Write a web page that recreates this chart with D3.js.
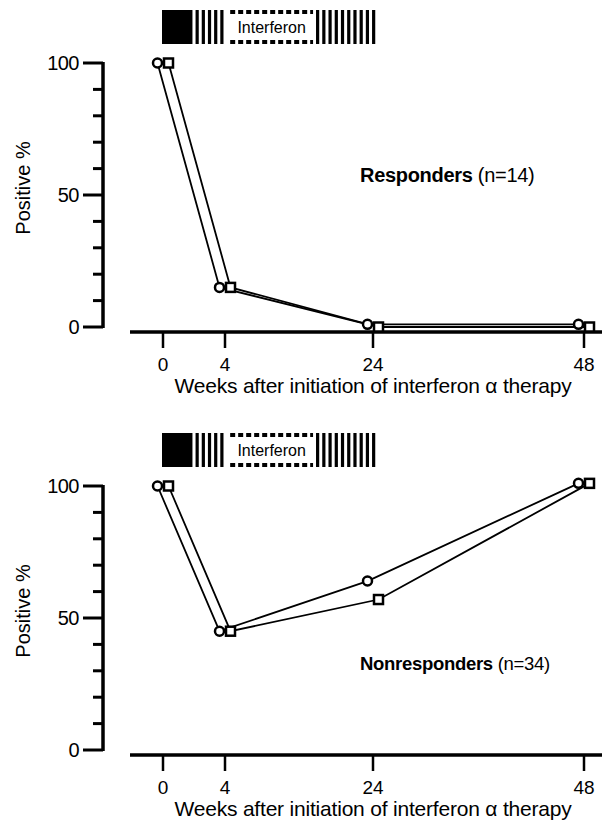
<!DOCTYPE html>
<html>
<head>
<meta charset="utf-8">
<script src="https://cdn.jsdelivr.net/npm/d3@7"></script>
<style>
  body { margin: 0; background: #fff; }
  svg { display: block; font-family: "Liberation Sans", Arial, sans-serif; }
</style>
</head>
<body>
<div id="chart"></div>
<script>
// x positions are weeks, axis is not linear in the original
var weeks = [0, 4, 24, 48];
var weekTicks = ["0", "4", "24", "48"];
var yTicks = [0, 50, 100];

// responders (n=14)
var respCircle = [100, 15, 1, 1];
var respSquare = [100, 15, 0, 0];

// nonresponders (n=34)
var nonCircle = [100, 45, 64, 101];
var nonSquare = [100, 45, 57, 101];

// treatment bar segments, in weeks
var solidSeg = [0, 1.9];
var stripeSeg1 = [2.1, 4.2];
var dashSeg = [4.7, 15.9];
var stripeSeg2 = [16.3, 24.6];

var width = 602;
var height = 827;

var xScale = d3.scaleLinear()
    .domain(weeks)
    .range([163, 225, 373, 584]);

var svg = d3.select("#chart")
    .append("svg")
        .attr("width", width)
        .attr("height", height);

function drawPanel(top, circleVals, squareVals, label, count, labelY, labelSize) {
    var g = svg.append("g")
        .attr("transform", "translate(0," + top + ")");

    var yScale = d3.scaleLinear()
        .domain([0, 100])
        .range([327, 63]);

    // interferon bar
    var barTop = 10, barH = 34;
    g.append("rect")
        .attr("x", xScale(solidSeg[0]) - 1)
        .attr("y", barTop)
        .attr("width", xScale(solidSeg[1]) - xScale(solidSeg[0]) + 1)
        .attr("height", barH)
        .attr("fill", "#000");

    [stripeSeg1, stripeSeg2].forEach(function (seg) {
        var x0 = xScale(seg[0]), x1 = xScale(seg[1]);
        var n = Math.round((x1 - x0) / 6);
        g.selectAll(null)
            .data(d3.range(n))
            .enter().append("rect")
                .attr("x", function (i) { return x0 + i * (x1 - x0) / n; })
                .attr("y", barTop)
                .attr("width", 3.2)
                .attr("height", barH)
                .attr("fill", "#000");
    });

    var dx0 = xScale(dashSeg[0]), dx1 = xScale(dashSeg[1]);
    [barTop + 2, barTop + barH - 2].forEach(function (yy) {
        g.append("line")
            .attr("x1", dx0)
            .attr("x2", dx1)
            .attr("y1", yy)
            .attr("y2", yy)
            .attr("stroke", "#000")
            .attr("stroke-width", 4)
            .attr("stroke-dasharray", "5,3");
    });
    g.append("text")
        .attr("x", (dx0 + dx1) / 2)
        .attr("y", barTop + barH / 2 + 6)
        .attr("text-anchor", "middle")
        .attr("font-size", 16)
        .text("Interferon");

    // y axis
    g.append("line")
        .attr("x1", 103).attr("x2", 103)
        .attr("y1", yScale(100) - 1).attr("y2", yScale(0) + 1)
        .attr("stroke", "#000")
        .attr("stroke-width", 3.5);

    g.selectAll(null)
        .data(d3.range(0, 101, 10))
        .enter().append("line")
            .attr("x1", function (d) { return d % 50 === 0 ? 83 : 93; })
            .attr("x2", 103)
            .attr("y1", function (d) { return yScale(d); })
            .attr("y2", function (d) { return yScale(d); })
            .attr("stroke", "#000")
            .attr("stroke-width", 3);

    g.selectAll(null)
        .data(yTicks)
        .enter().append("text")
            .attr("x", 79)
            .attr("y", function (d) { return yScale(d) + 7; })
            .attr("text-anchor", "end")
            .attr("font-size", 20)
            .attr("letter-spacing", -0.5)
            .text(function (d) { return d; });

    g.append("text")
        .attr("text-anchor", "middle")
        .attr("transform", "translate(30," + 188 + ")rotate(-90)")
        .attr("font-size", 20)
        .text("Positive %");

    // x axis
    var axisY = 332;
    g.append("line")
        .attr("x1", 130).attr("x2", 602)
        .attr("y1", axisY).attr("y2", axisY)
        .attr("stroke", "#000")
        .attr("stroke-width", 3.5);

    g.selectAll(null)
        .data(weeks)
        .enter().append("line")
            .attr("x1", function (d) { return xScale(d); })
            .attr("x2", function (d) { return xScale(d); })
            .attr("y1", axisY)
            .attr("y2", axisY + 16)
            .attr("stroke", "#000")
            .attr("stroke-width", 2.5);

    g.selectAll(null)
        .data(weeks)
        .enter().append("text")
            .attr("x", function (d) { return xScale(d); })
            .attr("y", axisY + 39)
            .attr("text-anchor", "middle")
            .attr("font-size", 19)
            .text(function (d, i) { return weekTicks[i]; });

    g.append("text")
        .attr("x", 373)
        .attr("y", axisY + 61)
        .attr("text-anchor", "middle")
        .attr("font-size", 21)
        .attr("letter-spacing", -0.2)
        .text("Weeks after initiation of interferon \u03b1 therapy");

    // label
    var lab = g.append("text")
        .attr("x", 360)
        .attr("y", labelY)
        .attr("font-size", labelSize)
        .attr("letter-spacing", -0.3);
    lab.append("tspan").attr("font-weight", "bold").text(label);
    lab.append("tspan").text(" (n=" + count + ")");

    // series
    var off = 5.5;
    var circleLine = d3.line()
        .x(function (d, i) { return xScale(weeks[i]) - off; })
        .y(function (d) { return yScale(d); });
    var squareLine = d3.line()
        .x(function (d, i) { return xScale(weeks[i]) + off; })
        .y(function (d) { return yScale(d); });

    g.append("path")
        .datum(circleVals)
        .attr("d", circleLine)
        .attr("fill", "none")
        .attr("stroke", "#000")
        .attr("stroke-width", 1.8);

    g.append("path")
        .datum(squareVals)
        .attr("d", squareLine)
        .attr("fill", "none")
        .attr("stroke", "#000")
        .attr("stroke-width", 1.8);

    g.selectAll(null)
        .data(circleVals)
        .enter().append("circle")
            .attr("cx", function (d, i) { return xScale(weeks[i]) - off; })
            .attr("cy", function (d) { return yScale(d); })
            .attr("r", 4.5)
            .attr("fill", "#fff")
            .attr("stroke", "#000")
            .attr("stroke-width", 2.5);

    g.selectAll(null)
        .data(squareVals)
        .enter().append("rect")
            .attr("x", function (d, i) { return xScale(weeks[i]) + off - 4.5; })
            .attr("y", function (d) { return yScale(d) - 4.5; })
            .attr("width", 9)
            .attr("height", 9)
            .attr("fill", "#fff")
            .attr("stroke", "#000")
            .attr("stroke-width", 2.5);
}

drawPanel(0, respCircle, respSquare, "Responders", 14, 182, 20);
drawPanel(423, nonCircle, nonSquare, "Nonresponders", 34, 247, 18.5);
</script>
</body>
</html>
